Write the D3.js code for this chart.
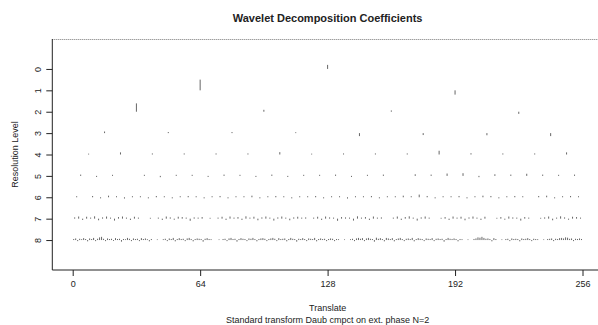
<!DOCTYPE html>
<html><head><meta charset="utf-8">
<script src="https://cdn.jsdelivr.net/npm/d3@7/dist/d3.min.js"></script>
<style>
html,body{margin:0;padding:0;background:#fff;}
svg{display:block;font-family:"Liberation Sans",Arial,Helvetica,sans-serif;}
</style></head>
<body>
<svg id="c" width="598" height="325"></svg>
<script>
// ---- data ----
const chartTitle = "Wavelet Decomposition Coefficients";
const xLabel = "Translate";
const subLabel = "Standard transform Daub cmpct on ext. phase N=2";
const yLabel = "Resolution Level";
const xTicks = [0, 64, 128, 192, 256];
const levels = [0, 1, 2, 3, 4, 5, 6, 7, 8];
// detail coefficients per level (relative to largest; + = drawn upward)
const lev0 = [0.38];
const lev1 = [1.0, -0.4];
const lev2 = [0.78, 0.18, 0.12, -0.2];
const lev3 = [0.15, 0.1, 0.1, 0.08, -0.28, -0.18, -0.2, -0.28];
const lev4 = [0.08, 0.2, 0.1, 0.1, 0.1, 0.1, 0.22, 0.08, 0.1, 0.1, 0.1, 0.35, 0.12, 0.1, 0.1, 0.2];
const lev5 = [0.12, -0.1, 0.1, 0, 0.1, -0.12, 0.1, 0.1, -0.1, 0.12, 0.1, -0.1, 0.12, -0.1, 0.1, 0.1,
            0.12, -0.1, 0.1, 0.12, 0, 0.15, 0.12, 0.22, 0.25, -0.12, 0.15, 0.12, 0.2, 0.12, 0.1, 0.12];
const lev6 = [0.1, 0, 0.12, -0.1, 0.15, 0.1, -0.12, 0.1, 0.1, -0.1, 0.12, 0.1, -0.1, 0.1, 0.12, 0.1,
            -0.1, 0.1, 0.12, -0.1, 0.1, 0.1, 0.15, -0.1, 0.1, 0.12, 0.1, -0.1, 0.1, 0.1, 0.12, -0.1,
            0.1, 0.1, -0.12, 0.1, 0.1, 0.12, -0.1, 0.1, 0.1, 0.15, 0.1, 0.25, 0.12, -0.1, 0.1, 0.1,
            0.12, -0.1, 0.1, 0.15, 0.12, -0.1, 0.1, 0.12, 0.1, 0, 0.12, 0.15, -0.1, 0.1, 0.12, 0.1];
const lev7 = [0.12, 0.2, -0.12, 0.18, 0.1, 0.22, -0.15, 0.12, 0.2, 0.1, -0.18, 0.15, 0.2, 0.1, -0.12, 0.18,
            0.1, 0, 0, 0.08, 0, 0.1, -0.12, 0.2, 0.12, -0.1, 0.18, 0.15, 0.1, -0.2, 0.12, 0.1,
            0.15, 0, 0.08, 0, 0.1, 0.18, -0.12, 0.2, 0.1, 0.15, -0.12, 0.22, 0.1, 0.18, -0.15, 0.12,
            0.2, 0.1, -0.18, 0.12, 0.2, 0.1, -0.15, 0.12, 0.18, 0.1, 0.12, 0, 0.1, 0.18, -0.12, 0.2,
            0.12, 0.1, -0.2, 0.15, 0.12, 0.1, -0.18, 0.22, 0.1, 0.15, -0.12, 0.2, 0.1, 0.12, 0, 0,
            0.1, 0.2, -0.12, 0.15, 0.22, 0.1, -0.18, 0.12, 0.2, 0.1, 0, 0, 0.08, 0.15, -0.12, 0.2,
            0.1, 0.18, -0.15, 0.12, 0.2, 0.1, -0.12, 0.18, 0, 0, 0.08, 0.15, -0.1, 0.2, 0.12, 0.1,
            -0.18, 0.15, 0.1, 0, 0, 0.08, 0.12, 0.2, -0.15, 0.1, 0.22, 0.12, -0.1, 0.18, 0.15, 0.1];
const lev8 = [0.1, 0.15, -0.1, 0.12, 0.08, 0.18, 0.1, -0.12, 0.15, 0.1, 0.2, -0.1, 0.12, 0.25, 0.3, 0.12,
            -0.1, 0.15, 0.1, 0.12, -0.08, 0.18, 0.1, 0.12, -0.15, 0.1, 0.08, 0.2, 0.12, -0.1, 0.15, 0.1,
            0.12, -0.1, 0.18, 0.1, 0.15, 0.08, -0.12, 0.1, 0, 0, 0.06, 0, 0, 0.08, 0.12, -0.1,
            0.15, 0.1, 0.2, -0.12, 0.1, 0.18, 0.1, 0.12, -0.1, 0.15, 0.2, 0.1, -0.12, 0.1, 0.15, 0.12,
            0.1, -0.15, 0.12, 0.18, 0.1, 0.08, 0, 0, 0, 0.06, 0, 0.1, 0.12, -0.1, 0.15, 0.2,
            0.1, 0.12, -0.15, 0.1, 0.18, 0.12, 0.1, -0.1, 0.15, 0.12, 0.2, 0.1, -0.12, 0.1, 0.15, 0.18,
            0.12, -0.1, 0.1, 0.15, 0.2, 0.12, -0.1, 0.18, 0.1, 0.12, 0.15, -0.12, 0.1, 0.2, 0.12, 0.1,
            -0.15, 0.12, 0.1, 0.18, 0.1, -0.1, 0.15, 0.12, 0.1, 0.2, -0.12, 0.1, 0.15, 0.1, 0.12, -0.1,
            0.1, 0.15, 0.12, -0.1, 0.1, 0.08, 0, 0, 0.06, 0, 0, 0.08, 0.12, -0.1, 0.15, 0.2,
            0.12, 0.18, -0.1, 0.15, 0.2, 0.12, 0.1, -0.15, 0.22, 0.12, 0.18, 0.1, -0.12, 0.2, 0.15, 0.1,
            0.18, -0.12, 0.1, 0.15, 0.2, 0.1, -0.1, 0.12, 0.15, 0.1, 0.2, -0.12, 0.1, 0.18, 0.12, 0.1,
            -0.1, 0.15, 0.12, 0.1, 0.18, -0.1, 0.12, 0.15, 0.1, 0.12, -0.15, 0.1, 0.2, 0.12, 0.1, 0.15,
            0.1, -0.12, 0.1, 0.08, 0, 0, 0.06, 0, 0, 0.1, 0.15, 0.25, 0.22, 0.3, 0.2, 0.12,
            0.15, 0.1, -0.12, 0.18, 0.1, 0, 0, 0.06, 0, 0.1, 0.12, -0.1, 0.15, 0.1, 0.12, 0.1,
            -0.12, 0.15, 0.1, 0.12, 0.18, 0.1, -0.1, 0.12, 0.1, 0.08, 0, 0, 0.06, 0, 0.1, 0.12,
            0.15, -0.1, 0.12, 0.1, 0.18, 0.2, 0.15, 0.25, 0.22, 0.12, 0.15, -0.1, 0.12, 0.1, 0.15, 0.1];
const coeffs = [lev0, lev1, lev2, lev3, lev4, lev5, lev6, lev7, lev8];
const nTranslate = 256;

// ---- layout ----
const svg = d3.select("#c");
const L = 52.3, R = 602.9, T = 39, B = 270;
const x = d3.scaleLinear().domain([-10.24, 266.24]).range([L, R]);
const y = d3.scaleLinear().domain([-1.4, 9.4]).range([T, B]);
const ink = "#222";

// coefficients
const segs = [];
coeffs.forEach((arr, lev) => {
  const n = arr.length, step = nTranslate / n;
  arr.forEach((v, k) => { if (v !== 0) segs.push({lev, t: (k + 0.5) * step, v}); });
});
svg.append("g").selectAll("line").data(segs).join("line")
  .attr("x1", d => x(d.t)).attr("x2", d => x(d.t))
  .attr("y1", d => y(d.lev)).attr("y2", d => y(d.lev - 0.5 * d.v))
  .attr("stroke", "#555").attr("stroke-width", 0.9);

// frame
svg.append("line").attr("x1", L).attr("x2", 598).attr("y1", T + 0.5).attr("y2", T + 0.5)
  .attr("stroke", "#777").attr("stroke-dasharray", "1,1");
svg.append("line").attr("x1", L).attr("x2", 598).attr("y1", B).attr("y2", B).attr("stroke", ink);

// axes
const xAxis = d3.axisBottom(x).tickValues(xTicks).tickSize(6).tickPadding(5).tickFormat(d3.format("d"));
const gx = svg.append("g").attr("transform", `translate(0,${B})`).call(xAxis);
gx.select(".domain").remove();
gx.selectAll("line").attr("stroke", ink);
gx.selectAll("text").attr("font-size", 9).attr("fill", ink).attr("font-family", "Liberation Sans, Arial, sans-serif");

const yAxis = d3.axisLeft(y).tickValues(levels).tickSize(6).tickPadding(4).tickFormat(d3.format("d"));
const gy = svg.append("g").attr("transform", `translate(${L},0)`).call(yAxis);
gy.select(".domain").attr("d", `M0,${T}V${B}`).attr("stroke", ink);
gy.selectAll("line").attr("stroke", ink);
gy.selectAll("text").attr("font-size", 9).attr("fill", ink)
  .attr("font-family", "Liberation Sans, Arial, sans-serif")
  .attr("text-anchor", "middle").attr("dy", null).attr("x", null)
  .attr("transform", "translate(-14,0) rotate(-90)").attr("y", 3);

// titles
const cx = (L + R) / 2;
svg.append("text").attr("x", cx).attr("y", 22).attr("text-anchor", "middle")
  .attr("font-size", 11).attr("font-weight", "bold").attr("fill", ink).text(chartTitle);
svg.append("text").attr("x", cx).attr("y", 311).attr("text-anchor", "middle")
  .attr("font-size", 9).attr("fill", ink).text(xLabel);
svg.append("text").attr("x", cx).attr("y", 323).attr("text-anchor", "middle")
  .attr("font-size", 9).attr("fill", ink).text(subLabel);
svg.append("text").attr("transform", `translate(18,${(T + B) / 2}) rotate(-90)`)
  .attr("text-anchor", "middle").attr("font-size", 9).attr("fill", ink).text(yLabel);
</script>
</body></html>
